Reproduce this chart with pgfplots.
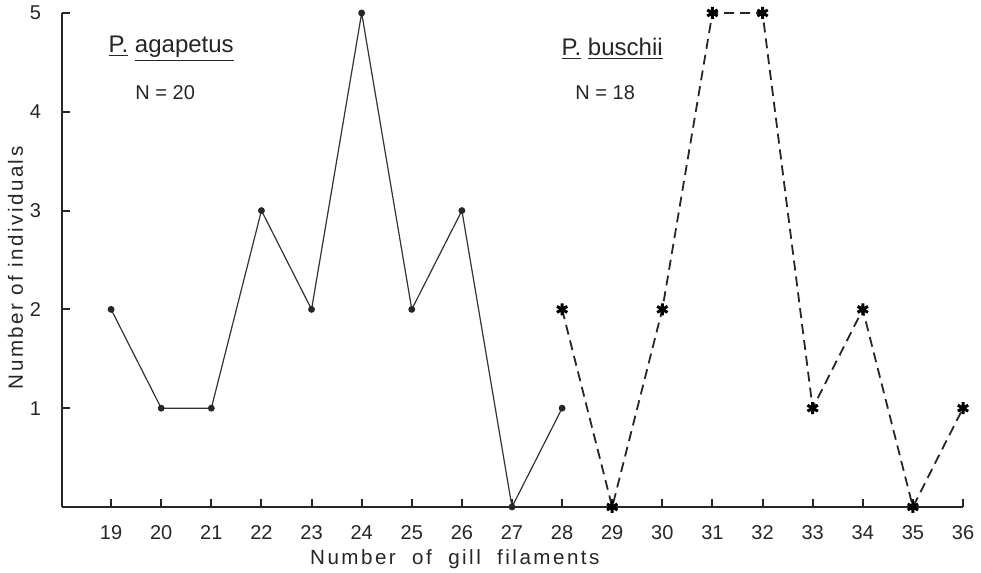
\documentclass[border=0pt]{standalone}
\usepackage{fontspec}
\setmainfont{Liberation Sans}
\usepackage{pgfplots}
\pgfplotsset{compat=1.18}
\begin{document}
\begin{tikzpicture}
\begin{axis}[
  scale only axis,
  width=450.5pt, height=247pt,
  xmin=18.02, xmax=36, ymin=0, ymax=5,
  axis x line*=bottom, axis y line*=left,
  axis line style={line width=1.2pt, draw=black!85},
  xtick={19,...,36}, ytick={1,2,3,4,5},
  tick align=inside,
  major tick length=4pt,
  tick style={line width=1pt, draw=black!85},
  /pgf/number format/assume math mode=true,
  tick label style={font=\fontsize{10}{12}\selectfont, text=black!85},
  xticklabel style={yshift=-5.5pt},
  yticklabel style={xshift=-7pt},
  xlabel={\addfontfeature{LetterSpace=12}Number\ \ of\ \ gill\ \ filaments},
  ylabel={\addfontfeature{LetterSpace=12}Number\ of\ individuals},
  label style={font=\fontsize{10.3}{12}\selectfont, text=black!85},
  xlabel style={at={(ticklabel cs:0.436)}, yshift=1.5pt},
  ylabel style={at={(ticklabel cs:0.484)}, yshift=-3.5pt},
  clip=false,
]
\coordinate (ll) at (rel axis cs:0,0);
\coordinate (ur) at (rel axis cs:1,1);
\addplot[line width=0.6pt, draw=black!80, mark=*, mark size=1.4pt, mark options={fill=black!85, draw=black!85}]
  coordinates {(19,2) (20,1) (21,1) (22,3) (23,2) (24,5) (25,2) (26,3) (27,0) (28,1)};
\addplot[line width=0.9pt, draw=black!85, dash pattern=on 5pt off 3pt, mark=asterisk, mark size=3pt, mark options={solid, line width=1.5pt, draw=black}]
  coordinates {(28,2) (29,0) (30,2) (31,5) (32,5) (33,1) (34,2) (35,0) (36,1)};
\node[font=\fontsize{12}{14}\selectfont, text=black!85] at (axis cs:20.2,4.64) {\underline{P.}\ \underline{agapetus}};
\node[font=\fontsize{10}{12}\selectfont, text=black!85] at (axis cs:20.08,4.19) {N = 20};
\node[font=\fontsize{12}{14}\selectfont, text=black!85] at (axis cs:29.0,4.64) {\underline{P.}\ \underline{buschii}};
\node[font=\fontsize{10}{12}\selectfont, text=black!85] at (axis cs:28.86,4.19) {N = 18};
\end{axis}
\pgfresetboundingbox
\path ([shift={(-31pt,-33pt)}]ll) rectangle ([shift={(9pt,6.5pt)}]ur);
\end{tikzpicture}
\end{document}
